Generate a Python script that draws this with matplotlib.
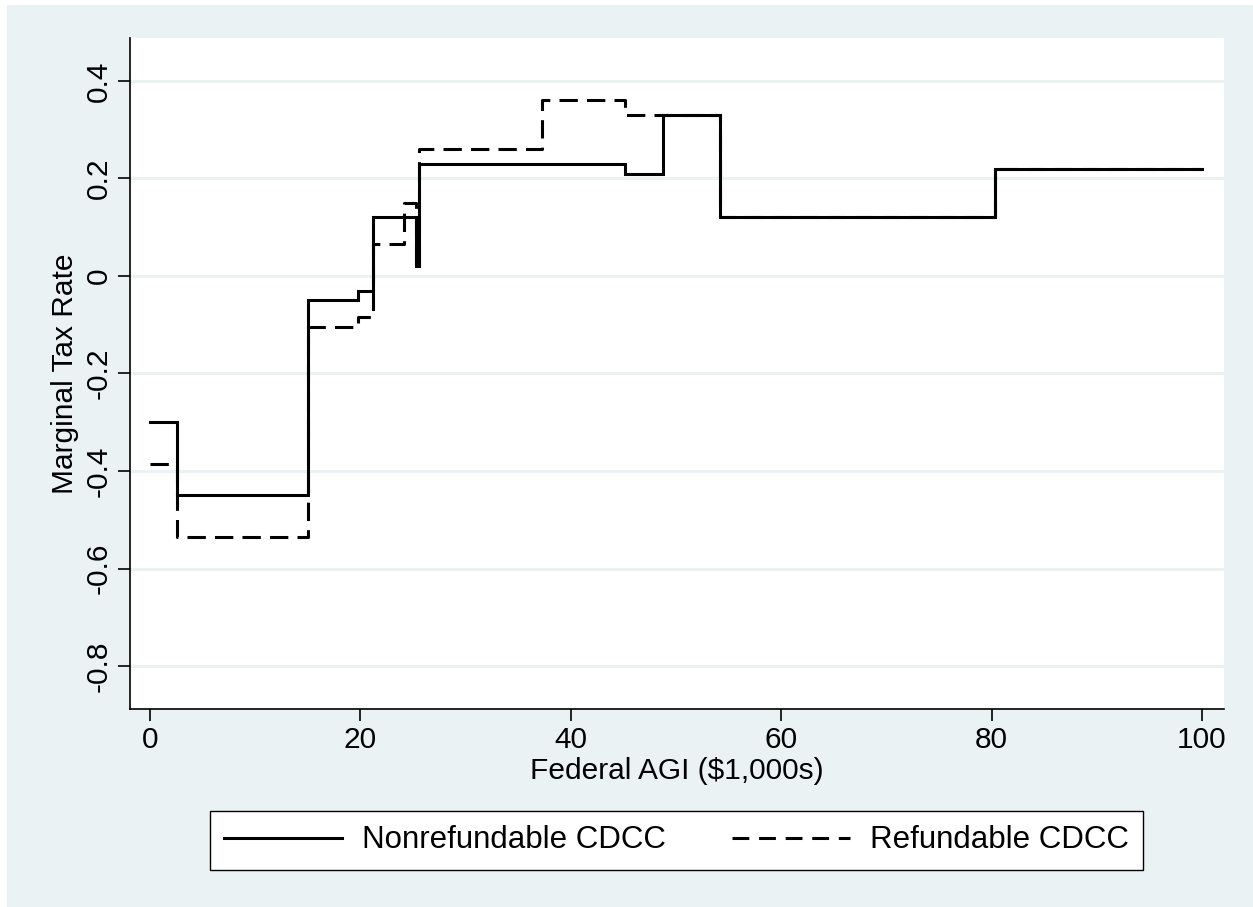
import matplotlib
matplotlib.use("Agg")
import matplotlib.pyplot as plt
from matplotlib.lines import Line2D

plt.rcParams['font.family'] = ['Liberation Sans', 'DejaVu Sans']

# Data (step functions: value holds from x until next x)
nonref_x = [0, 2.6, 15.0, 19.8, 21.2, 25.3, 25.6, 45.2, 48.8, 54.2, 80.3, 100]
nonref_y = [-0.30, -0.45, -0.05, -0.03, 0.12, 0.02, 0.23, 0.21, 0.33, 0.12, 0.22, 0.22]

ref_x = [0, 2.6, 15.0, 19.8, 21.2, 24.1, 25.3, 25.6, 37.3, 45.2, 48.8, 54.2, 80.3, 100]
ref_y = [-0.385, -0.535, -0.105, -0.085, 0.065, 0.15, 0.02, 0.26, 0.36, 0.33, 0.33, 0.12, 0.22, 0.22]

xticks = [0, 20, 40, 60, 80, 100]
yticks = [-0.8, -0.6, -0.4, -0.2, 0, 0.2, 0.4]
ytick_labels = ["-0.8", "-0.6", "-0.4", "-0.2", "0", "0.2", "0.4"]

labels = ["Nonrefundable CDCC", "Refundable CDCC"]

BG = "#EAF2F3"
W, H = 1253, 907
fig = plt.figure(figsize=(W / 100, H / 100), dpi=100, facecolor="white")
# background panel with thin white margin
fig.patches.append(plt.Rectangle((7 / W, -0.01), 1.02 - 7 / W, 1.01 - 5 / H, transform=fig.transFigure,
                                 facecolor=BG, edgecolor="none", zorder=-10))

ax = fig.add_axes([130 / W, 1 - 709 / H, (1224 - 130) / W, (709 - 38) / H])
ax.set_facecolor("white")

FS = 21.5
ax.plot(nonref_x, nonref_y, drawstyle="steps-post", color="black", lw=2.2,
        solid_joinstyle="miter", zorder=3)
ax.plot(ref_x, ref_y, drawstyle="steps-post", color="black", lw=2.2,
        dashes=(6, 3), zorder=2)

ax.set_xlim(-1.9, 102.1)
ax.set_ylim(-0.888, 0.488)
ax.set_xticks(xticks)
ax.set_yticks(yticks)
ax.set_yticklabels(ytick_labels, rotation=90, va="center")
ax.tick_params(axis="both", labelsize=FS, length=8.5, width=1.2, color="black", pad=4)

ax.grid(axis="y", color=BG, lw=2.2, zorder=0)
ax.set_axisbelow(True)
for s in ["top", "right"]:
    ax.spines[s].set_visible(False)
for s in ["left", "bottom"]:
    ax.spines[s].set_linewidth(1.2)

ax.set_xlabel("Federal AGI ($1,000s)", fontsize=FS, labelpad=2)
ax.set_ylabel("Marginal Tax Rate", fontsize=FS, labelpad=4)

LFS = 22.5
handles = [Line2D([], [], color="black", lw=2.2),
           Line2D([], [], color="black", lw=2.2, dashes=(5.5, 3.2))]
leg = fig.legend(handles, labels, loc="center", bbox_to_anchor=(676.5 / W, 1 - 840.5 / H),
                 ncol=2, fontsize=LFS, frameon=True, fancybox=False, edgecolor="black",
                 facecolor="white", framealpha=1, handlelength=3.78, handletextpad=0.64,
                 columnspacing=2.1, borderpad=0.45, borderaxespad=0)
leg.get_frame().set_linewidth(1.0)

fig.savefig("out.png", dpi=100, facecolor="white")
